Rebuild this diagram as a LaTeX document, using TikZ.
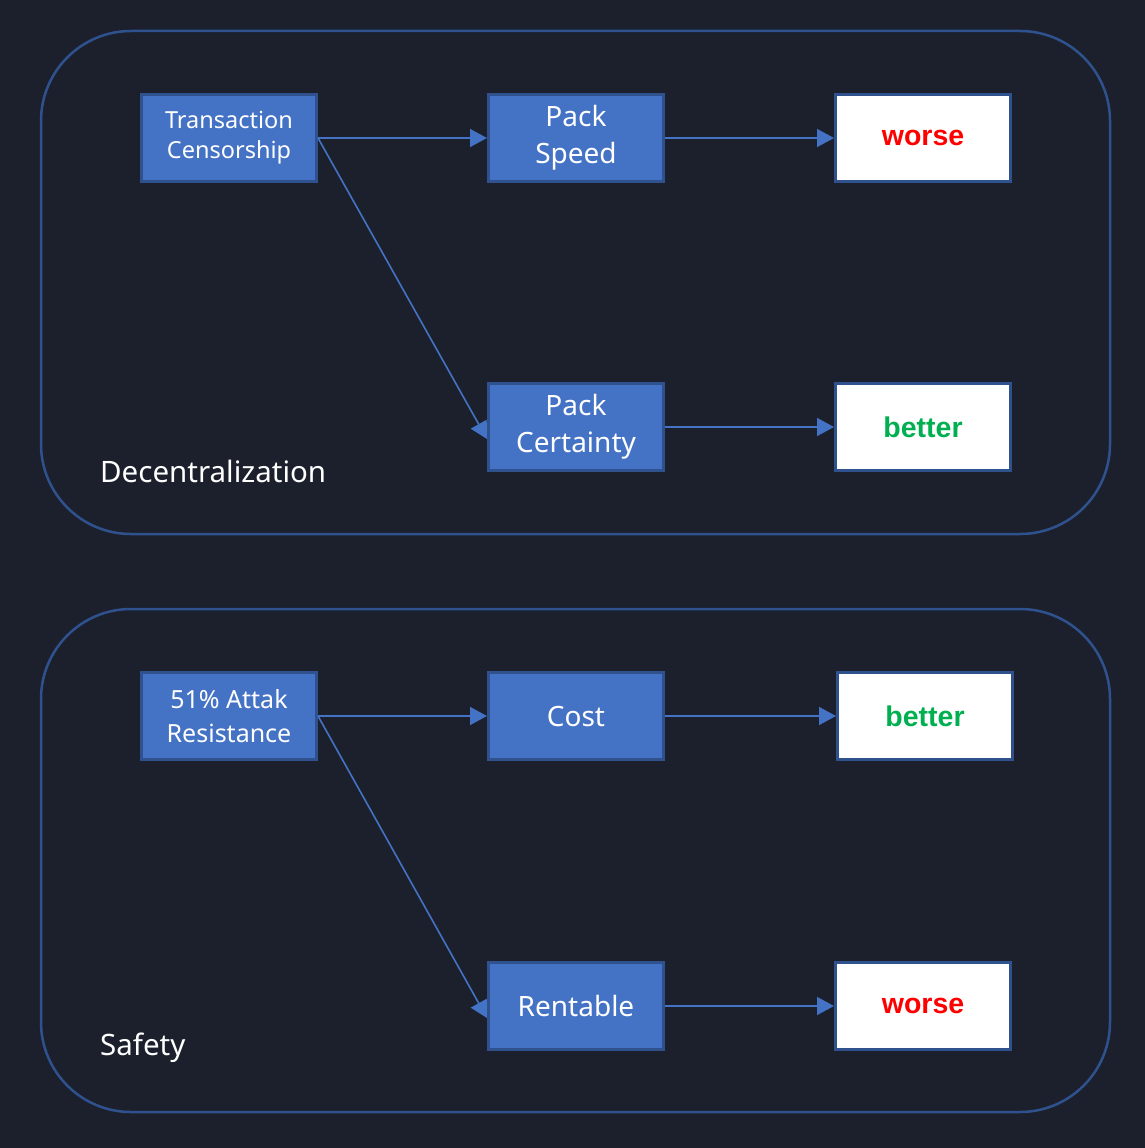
\documentclass[tikz,border=0pt]{standalone}
\usepackage{fontspec}
\setmainfont{Noto Sans}
\newfontfamily\boldfam{Liberation Sans}
\usetikzlibrary{arrows.meta}
\definecolor{bg}{HTML}{1B202C}
\definecolor{boxfill}{HTML}{4472C4}
\definecolor{boxline}{HTML}{2F528F}
\definecolor{arrowc}{HTML}{4472C4}
\definecolor{redt}{HTML}{FF0000}
\definecolor{greent}{HTML}{00B050}
\tikzset{
  bluebox/.style={draw=boxline, line width=3pt, fill=boxfill, minimum width=175pt, minimum height=87pt, inner sep=0pt, align=center, text=white, font=\fontsize{28}{37}\selectfont},
  whitebox/.style={draw=boxline, line width=3pt, fill=white, minimum width=175pt, minimum height=87pt, inner sep=0pt, align=center, font=\boldfam\bfseries\fontsize{28.5}{36}\selectfont},
  group/.style={draw=boxline, line width=2.5pt, rounded corners=90pt},
  conn/.style={draw=arrowc, line width=1.6pt, -{Triangle[length=17pt,width=18pt]}},
  grouplabel/.style={text=white, anchor=west, inner sep=0pt, font=\fontsize{29.5}{36}\selectfont}
}
\begin{document}
\begin{tikzpicture}[x=1pt,y=-1pt]
\fill[bg] (0,0) rectangle (1145,1148);
\useasboundingbox (0,0) rectangle (1145,1148);
% groups
\draw[group] (41,31) rectangle (1110,534);
\draw[group] (41,609) rectangle (1110,1112);
\node[grouplabel] (dec) at (100,471) {Decentralization};
\node[grouplabel] (saf) at (100,1048) {Safety};
% top group
\node[bluebox, font=\fontsize{23.5}{30}\selectfont] (tc) at (229,138) {Transaction\\Censorship};
\node[bluebox] (ps) at (576,138) {Pack\\Speed};
\node[whitebox, text=redt] (w1) at (923,138) {worse};
\node[bluebox] (pc) at (576,427) {Pack\\Certainty};
\node[whitebox, text=greent] (b1) at (923,427) {better};
% bottom group
\node[bluebox, font=\fontsize{25}{34}\selectfont] (at) at (229,716) {51\% Attak\\Resistance};
\node[bluebox] (co) at (576,716) {Cost};
\node[whitebox, text=greent] (b2) at (925,716) {better};
\node[bluebox] (re) at (576,1006) {Rentable};
\node[whitebox, text=redt] (w2) at (923,1006) {worse};
% connectors
\coordinate (pcin) at ([yshift=-12pt]pc.west);
\coordinate (rein) at ([yshift=-12pt]re.west);
\draw[conn] (tc.east) -- (ps.west);
\draw[conn] (tc.east) -- (pcin);
\draw[conn] (ps.east) -- (w1.west);
\draw[conn] (pc.east) -- (b1.west);
\draw[conn] (at.east) -- (co.west);
\draw[conn] (at.east) -- (rein);
\draw[conn] (co.east) -- (b2.west);
\draw[conn] (re.east) -- (w2.west);
\end{tikzpicture}
\end{document}
